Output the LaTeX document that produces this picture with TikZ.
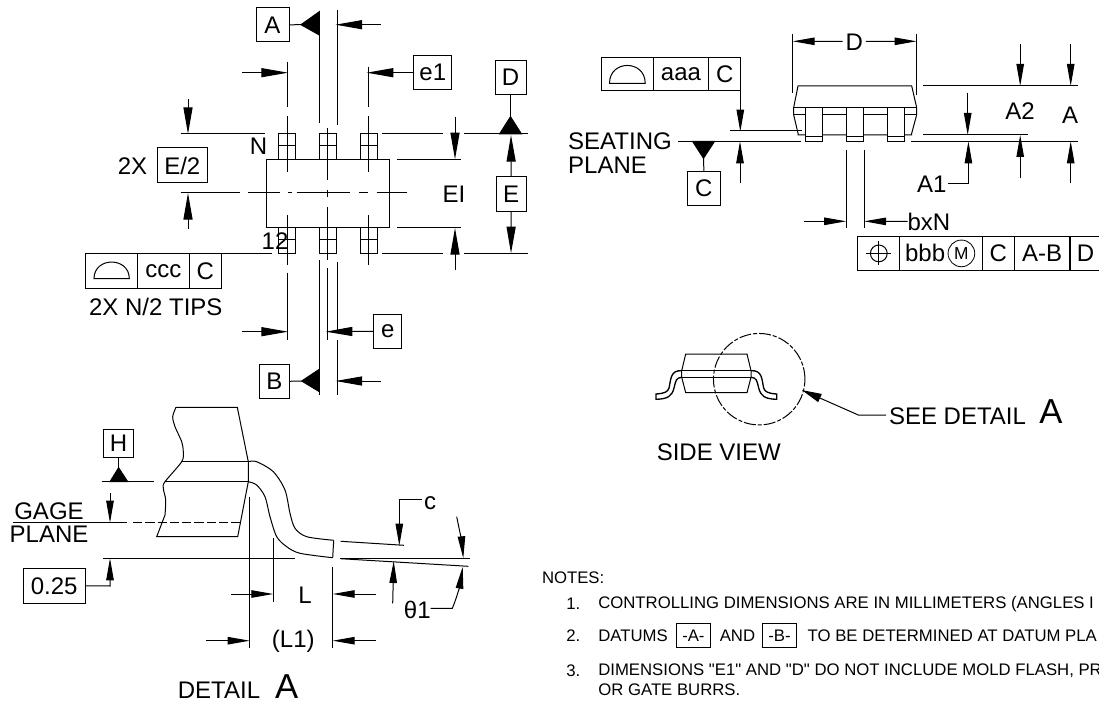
\documentclass[tikz,border=0pt]{standalone}
\usepackage{fontspec}
\setmainfont{Liberation Sans}
\newfontfamily\notefont{Liberation Sans}
\usepackage{tikz}
\usetikzlibrary{arrows.meta}
\tikzset{
    lbl/.style={inner sep=0pt, outer sep=0pt, font=\fontsize{18}{20}\selectfont},
    bigA/.style={inner sep=0pt, outer sep=0pt, font=\fontsize{26}{28}\selectfont},
    notetext/.style={inner sep=0pt, outer sep=0pt, anchor=west, font=\notefont\fontsize{12.55}{14}\selectfont},
    labelbox/.style 2 args={draw, lbl, minimum width=#1*0.75pt, minimum height=#2*0.75pt},
    notebox/.style={draw, notetext, anchor=center, line width=0.6pt, minimum width=25.4pt, minimum height=18pt},
    bigarrow/.style={-{Triangle[length=20pt,width=6.8pt]}},
    smallarrow/.style={-{Triangle[length=16.5pt,width=5.6pt]}},
    datumtip/.style={fill=black, draw=black}
}
\begin{document}
\begin{tikzpicture}[x=0.75pt, y=-0.75pt, line width=0.75pt]
    \useasboundingbox (0,0) rectangle (1099,702);
    \clip (0,0) rectangle (1099,702);

    \draw (266.3,159.3) rectangle (389.7,228);
    \foreach \c in {287,328.2,368.5} {
        \draw (\c-8.5,134) rectangle (\c+8.5,159.3);
        \draw (\c-8.5,146) -- (\c+8.5,146);
        \draw (\c-8.5,228) rectangle (\c+8.5,253.3);
        \draw (\c-8.5,240) -- (\c+8.5,240);
    }
    \foreach \a/\b in {180.7/240, 248.3/280, 288/292, 296.7/350, 359.3/368.3, 376.7/406.7}
        \draw (\a,193) -- (\b,193);
    \foreach \a/\b in {62/107, 116/172, 215/265, 273/340}
        \draw (287,\a) -- (287,\b);
    \foreach \a/\b in {67/107, 116/172, 215/265}
        \draw (368,\a) -- (368,\b);
    \foreach \a/\b in {128/180, 190/197, 207/260, 268/340}
        \draw (327.7,\a) -- (327.7,\b);
    \draw (319.3,12) -- (319.3,123);
    \draw (337,10) -- (337,125);
    \draw (319.3,260) -- (319.3,395);
    \draw (337,262) -- (337,333);
    \draw (337,340) -- (337,395);

    \draw (85.7,253.3) -- (272,253.3);
    \draw (180.7,134) -- (264.7,134);
    \draw (381.7,134) -- (443,134);
    \draw (464,134) -- (527.7,134);
    \draw (381.7,253.3) -- (443,253.3);
    \draw (464,253.3) -- (527.7,253.3);
    \draw (397,159.3) -- (461,159.3);
    \draw (397,228) -- (461,228);

    \node[labelbox={33}{34}] (boxA) at (272.5,24.8) {A};
    \node[labelbox={29.3}{34}] (boxB) at (274.4,381.3) {B};
    \node[labelbox={37.7}{34}] (boxeone) at (432.8,72.7) {e1};
    \node[labelbox={28.3}{34}] (boxe) at (387.8,331.3) {e};
    \node[labelbox={31}{34}] (boxD) at (510.5,77.5) {D};
    \node[labelbox={30.3}{35}] (boxE) at (511.2,193.8) {E};
    \node[labelbox={50}{35}] (boxEhalf) at (182.3,165.5) {E/2};
    \node[lbl] (twox) at (132.5,165.7) {2X};
    \node[lbl] (pinN) at (258.5,146) {N};
    \node[lbl] (pinone) at (275,240.7) {12};
    \node[lbl] (ei) at (454,194) {EI};

    \draw (boxA.east) -- (301,24.7);
    \draw[datumtip] (301,24.7) -- (319.3,11.7) -- (319.3,35) -- cycle;
    \draw[bigarrow] (381,24.7) -- (335.5,24.7);
    \draw (boxB.east) -- (301.7,381);
    \draw[datumtip] (301.7,381) -- (319.3,369.3) -- (319.3,391.7) -- cycle;
    \draw[bigarrow] (381,381) -- (335.5,381);
    \draw[bigarrow] (242,72.7) -- (288,72.7);
    \draw[bigarrow] (boxeone.west) -- (366.7,72.7);
    \draw[bigarrow] (242,331.7) -- (288,331.7);
    \draw[bigarrow] (boxe.west) -- (325.7,331.7);
    \draw (boxD.south) -- (510.5,116.7);
    \draw[datumtip] (510.5,116.7) -- (499.5,134) -- (521.5,134) -- cycle;
    \draw[bigarrow] (boxE.north) -- (511,135);
    \draw[bigarrow] (boxE.south) -- (511,253.3);
    \draw[bigarrow] (188,99.3) -- (188,134);
    \draw[bigarrow] (188,229) -- (188,193);
    \draw[bigarrow] (455,117) -- (455,159.3);
    \draw[bigarrow] (455,270) -- (455,228);

    \node[labelbox={51.6}{35}] (cccsym) at (111.5,270.8) {};
    \node[labelbox={52}{35}] (ccctol) at (163.3,270.8) {ccc};
    \node[labelbox={32}{35}] (cccref) at (205.3,270.8) {C};
    \draw (94,278.7) .. controls (94,256.5) and (129.3,256.5) .. (129.3,278.7) -- cycle;
    \node[lbl] (tips) at (155.8,306.7) {2X N/2 TIPS};

    \draw (923,86) -- (1077.6,86);
    \draw (923,135) -- (1028,135);
    \draw (677.8,141.3) -- (801,141.3);
    \draw (911.3,141.3) -- (1077.6,141.3);
    \draw (730.3,131) -- (802,131);
    \draw (798,86) -- (911.7,86) -- (916.6,107.3) -- (916.6,115) -- (911.7,133.3) -- (911.7,135)
        -- (798,135) -- (798,133.3) -- (793.7,115) -- (793.7,107.3) -- cycle;
    \draw (793.7,107.3) -- (916.6,107.3);
    \draw (793.7,115) -- (916.6,115);
    \foreach \c in {814,855,895.5} {
        \draw[fill=white] (\c-8.5,107.3) rectangle (\c+8.5,141.3);
        \draw (\c-8.5,136.7) -- (\c+8.5,136.7);
    }
    \draw (792.7,34) -- (792.7,93.3);
    \draw (916.6,34) -- (916.6,95);
    \node[lbl] (dimD) at (854.3,42) {D};
    \draw[smallarrow] (dimD.west) ++(-3,-0.7) -- (792.7,41.3);
    \draw[smallarrow] (dimD.east) ++(3,-0.7) -- (916.6,41.3);

    \node[labelbox={51.8}{33.3}] (aaasym) at (627.4,74.3) {};
    \node[labelbox={55.3}{33.3}] (aaatol) at (681,74.3) {aaa};
    \node[labelbox={32.2}{33.3}] (aaaref) at (724.7,74.3) {C};
    \draw (609.5,83.3) .. controls (609.5,59.5) and (645.2,59.5) .. (645.2,83.3) -- cycle;
    \draw[smallarrow] (aaaref.south east) ++(-0.5,0) -- (740.3,131.7);
    \draw[smallarrow] (740,183.3) -- (740,141.3);
    \node[lbl, anchor=west] (seating) at (568.2,141) {SEATING};
    \node[lbl, anchor=west] (plane) at (568.2,165.3) {PLANE};
    \node[labelbox={32.6}{34}] (boxC) at (703.9,188.3) {C};
    \draw[datumtip] (692.5,141.3) -- (714.6,141.3) -- (703.5,158.3) -- cycle;
    \draw (703.5,158.3) -- (boxC.north);

    \draw[smallarrow] (1020.2,43.7) -- (1020.2,86);
    \draw[smallarrow] (1070.7,43.7) -- (1070.7,86);
    \draw[smallarrow] (1020.2,178.3) -- (1020.2,135);
    \draw[smallarrow] (1070.7,183.3) -- (1070.7,141.3);
    \draw[smallarrow] (967.7,92.7) -- (967.7,135);
    \node[lbl] (dimAtwo) at (1020,111) {A2};
    \node[lbl] (dimA) at (1070,115.7) {A};
    \node[lbl] (dimAone) at (931.7,184.3) {A1};
    \coordinate (aonebend) at (968.4,183.3);
    \draw[smallarrow] (dimAone.east) ++(2,-1) -- (aonebend) -- (968.4,141.3);

    \draw (846.2,150) -- (846.2,227.7);
    \draw (864,150) -- (864,227.7);
    \node[lbl] (dimb) at (928.9,221.5) {bxN};
    \draw[smallarrow] (803.9,221.3) -- (846.2,221.3);
    \draw[smallarrow] (dimb.west) -- (864,221.3);

    \node[labelbox={42.4}{33.3}] (bbbsym) at (878.6,253.4) {};
    \node[labelbox={82.6}{33.3}, text width=72*0.75pt] (bbbtol) at (941.1,253.4) {bbb};
    \node[labelbox={31.9}{33.3}] (bbbC) at (998.4,253.4) {C};
    \node[labelbox={55.7}{33.3}] (bbbAB) at (1042.1,253.4) {A-B};
    \node[labelbox={31}{33.3}] (bbbD) at (1085.5,253.4) {D};
    \draw (878.8,253.4) circle [radius=6.3pt];
    \draw (866.2,253.4) -- (891.4,253.4);
    \draw (878.8,241.4) -- (878.8,265.4);
    \node[draw, circle, inner sep=0pt, minimum size=20pt, line width=0.6pt, font=\fontsize{13}{14}\selectfont] (mmc) at (961.4,253.4) {M};

    \draw (685.7,354) -- (747,354) -- (751,370.7) -- (751,377.3) -- (747,392.7) -- (685.7,392.7)
        -- (681.7,377.3) -- (681.7,370.7) -- cycle;
    \draw (681.7,370.7) -- (751,370.7);
    \draw (681.7,377.3) -- (751,377.3);
    \draw[line width=1pt] (681.7,370.7) .. controls (670,370) and (671,380) .. (669,388)
        .. controls (668,392) and (664,393.5) .. (656,394) -- (656,399.3)
        .. controls (668,399) and (672,396) .. (674,388)
        .. controls (676,380) and (676,378) .. (681.7,377.3);
    \draw[line width=1pt] (751,370.7) .. controls (762.7,370) and (761.7,380) .. (763.7,388)
        .. controls (764.7,392) and (768.7,393.5) .. (776.7,394) -- (776.7,399.3)
        .. controls (764.7,399) and (760.7,396) .. (758.7,388)
        .. controls (756.7,380) and (756.7,378) .. (751,377.3);
    \draw[dash pattern=on 9pt off 1.5pt on 3pt off 1.5pt] (759.2,379.2) circle [radius=34.3pt];
    \node[lbl, anchor=west] (seedetail) at (889,416) {SEE DETAIL};
    \node[bigA] (seeA) at (1051,411.7) {A};
    \coordinate (seebend) at (858.3,415);
    \draw[-{Triangle[length=15pt,width=6.5pt]}] (seedetail.west) ++(-3,-1) -- (seebend) -- (801.7,390);
    \node[lbl] (sideview) at (718.8,452.7) {SIDE VIEW};

    \draw (176,407.3) -- (237.3,407.3) -- (248.3,461.7) -- (248.3,481.7) -- (237.7,536.7) -- (156.7,536.7)
        -- (165,515);
    \draw plot[smooth] coordinates {(165,515) (165.7,500) (163.3,488.3) (165,481.7) (181.7,461.7)
        (183.3,451.7) (181.7,441.7) (175,426.7) (172.7,416.7) (176,407.3)};
    \draw (181.7,461.7) -- (248.3,461.7);
    \draw (165,481.7) -- (248.3,481.7);
    \draw plot[smooth] coordinates {(248.3,461.7) (256.7,461.7) (273.3,471.7) (285,490) (290,513.3)
        (295,528.3) (306.7,536.7) (333.7,540.3)};
    \draw plot[smooth] coordinates {(248.3,481.7) (256.7,485) (265,496.7) (270,516.7) (276.7,536.7)
        (286.7,546.7) (300,553.3) (332.7,557.7)};
    \draw (333.7,540.3) -- (332.7,557.7);
    \draw (249.7,496.7) -- (249.7,648.3);
    \draw (273.3,538.3) -- (273.3,601.7);
    \draw (332.7,566.7) -- (332.7,648.3);
    \node[lbl] (dimL) at (305,595.7) {L};
    \node[lbl] (dimLone) at (293.3,641.7) {(L1)};
    \draw[smallarrow] (231,594) -- (273.3,594);
    \draw[smallarrow] (376,594) -- (332.7,594);
    \draw[smallarrow] (206,640.7) -- (249.7,640.7);
    \draw[smallarrow] (376,640.7) -- (332.7,640.7);
    \node[lbl] (detail) at (219,690.7) {DETAIL};
    \node[bigA] (detailA) at (286.7,686.7) {A};

    \draw (12.7,522.7) -- (126.7,522.7);
    \draw[dashed, dash pattern=on 7pt off 2.2pt] (133,522.7) -- (241.7,522.7);
    \node[lbl] (gage) at (49,511) {GAGE};
    \node[lbl] (gageplane) at (49,534) {PLANE};
    \node[labelbox={29.3}{28}] (boxH) at (118.6,443.3) {H};
    \draw (boxH.south) -- (118.6,467.7);
    \draw[datumtip] (118.6,467.7) -- (110,481.7) -- (127.7,481.7) -- cycle;
    \draw (101.7,481.7) -- (154,481.7);
    \draw[smallarrow] (110,493) -- (110,522.7);
    \draw (103.3,558.3) -- (295,558.3);
    \node[labelbox={62.3}{35}] (boxgage) at (54.2,585.8) {0.25};
    \coordinate (gagebend) at (110,586);
    \draw[smallarrow] (boxgage.east) -- (gagebend) -- (110,558.3);

    \node[lbl] (dimc) at (430,502.7) {c};
    \coordinate (cbend) at (399.3,499.3);
    \draw[smallarrow] (421.7,499.3) -- (cbend) -- (399.3,545.7);
    \draw (340.7,541.3) -- (404,545.3);
    \draw (340.7,558.7) -- (468.3,566.3);
    \draw (340,558.3) -- (470,558.3);
    \draw[smallarrow] (392.7,603.3) -- (393.7,561);
    \node[lbl] (dimtheta) at (417.3,610) {θ1};
    \draw[smallarrow] (430.7,608.3) -- (452.3,608.3) .. controls (456,600) and (460,585) .. (462.7,566.7);
    \draw[smallarrow] (456.7,516.7) .. controls (459,528) and (462,543) .. (463.3,558.3);

    \node[notetext] (notes) at (542,578) {NOTES:};
    \node[notetext] (numone) at (566.4,604) {1.};
    \node[notetext] (noteone) at (598.3,604) {CONTROLLING DIMENSIONS ARE IN MILLIMETERS (ANGLES I};
    \node[notetext] (numtwo) at (566.4,636) {2.};
    \node[notetext] (notetwoa) at (598.3,636) {DATUMS};
    \node[notebox] (datumA) at (693.4,635.3) {-A-};
    \node[notetext] (notetwob) at (719.8,636) {AND};
    \node[notebox] (datumB) at (779.5,635.3) {-B-};
    \node[notetext] (notetwoc) at (807.7,636) {TO BE DETERMINED AT DATUM PLA};
    \node[notetext] (numthree) at (566.4,670.3) {3.};
    \node[notetext] (notethree) at (598.3,670.3) {DIMENSIONS "E1" AND "D" DO NOT INCLUDE MOLD FLASH, PR};
    \node[notetext] (notefour) at (598.3,689.3) {OR GATE BURRS.};
\end{tikzpicture}
\end{document}
